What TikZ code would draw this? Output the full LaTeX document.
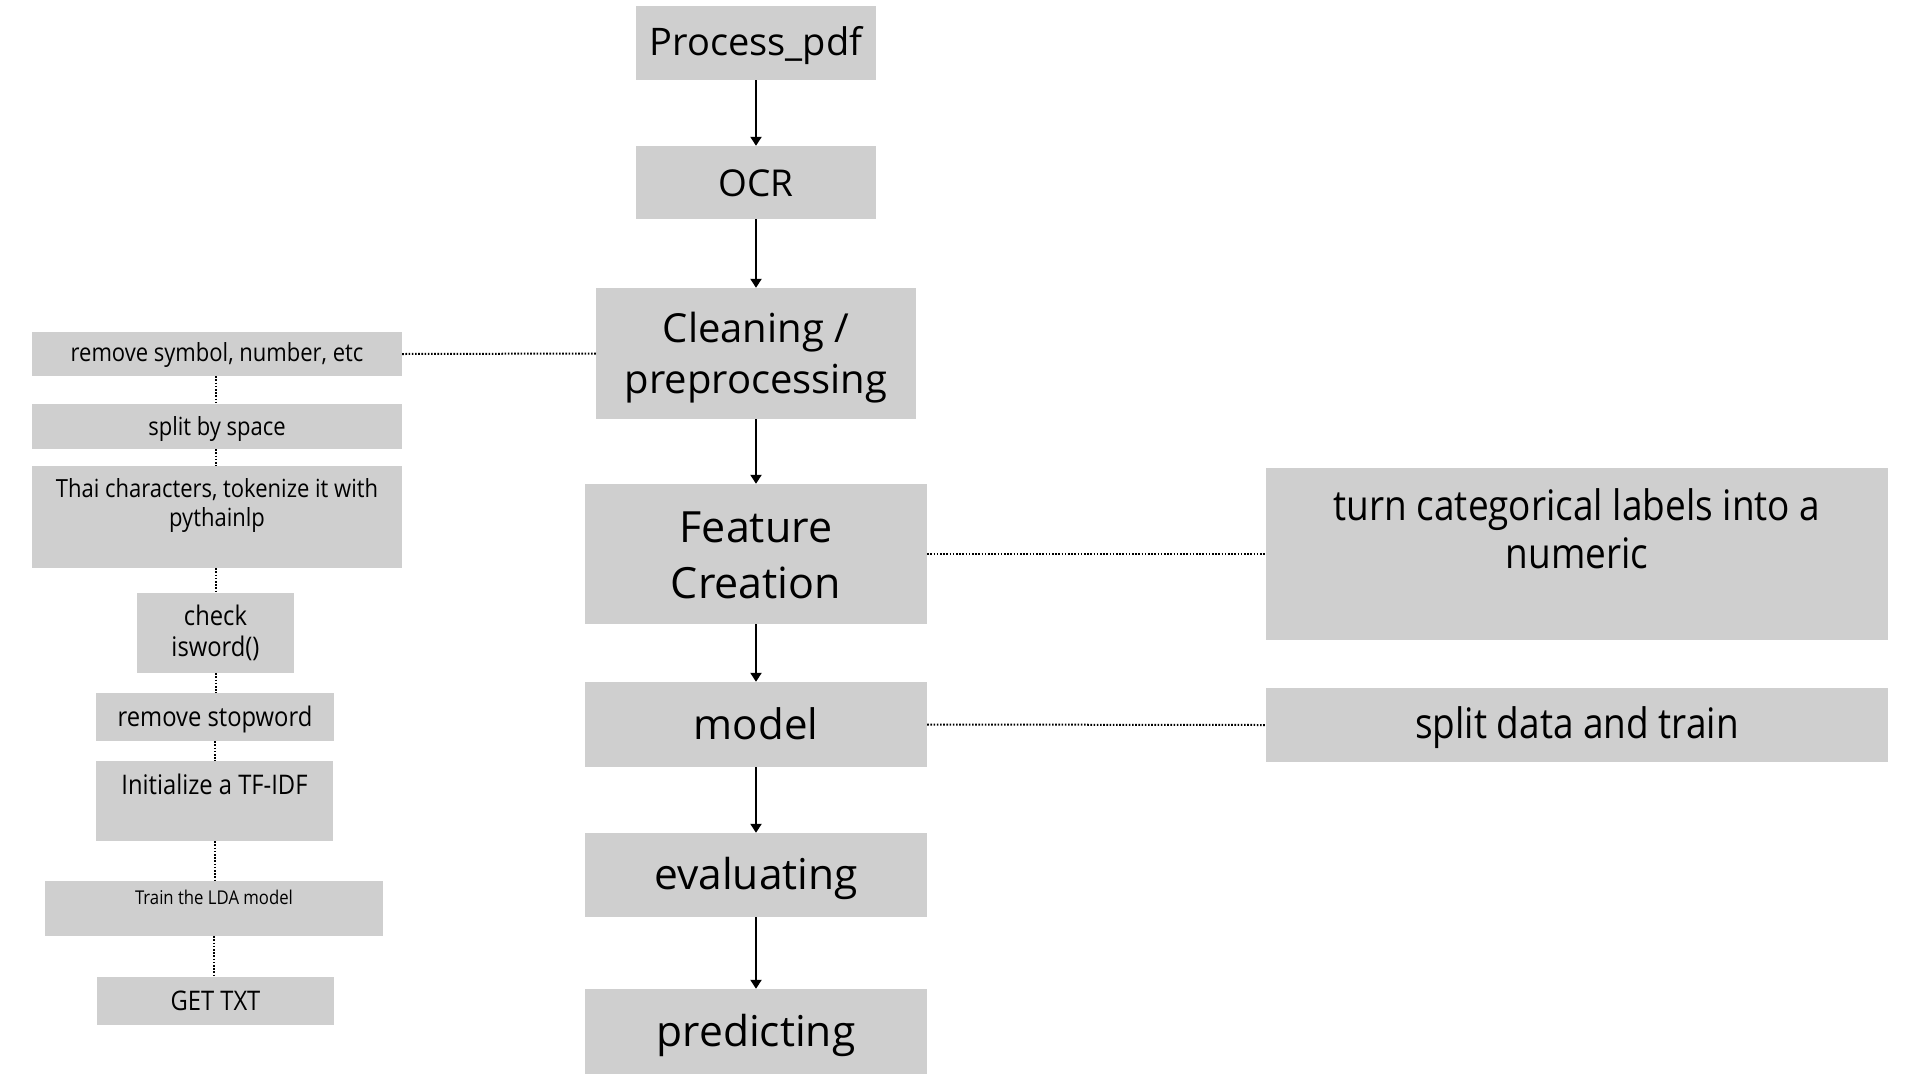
\documentclass[tikz,border=0pt]{standalone}
\usepackage{fontspec}
\setmainfont{Open Sans}
\newfontfamily\cond[FakeStretch=0.88]{Open Sans}
\usetikzlibrary{arrows.meta}
\definecolor{boxgray}{HTML}{CFCFCF}
\begin{document}
\begin{tikzpicture}[x=1pt,y=-1pt,
  box/.style={fill=boxgray,draw=none,inner sep=0pt,align=center,text=black,text depth=4pt},
  lbl/.style={inner sep=0pt,anchor=base,align=center,text=black},
  flow/.style={line width=2pt,-{Triangle[width=11pt,length=9pt]}},
  dots/.style={line width=2pt,dash pattern=on 1.6pt off 1.6pt}]
\useasboundingbox (0,0) rectangle (1920,1080);
% main column
\node[box,minimum width=240,minimum height=74,text height=29.4pt,font=\fontsize{38}{54}\selectfont] (pdf) at (756,43) {Process\_pdf};
\node[box,minimum width=240,minimum height=73,text height=32pt,font=\fontsize{37}{54}\selectfont] (ocr) at (756,182.5) {OCR};
\node[box,minimum width=320,minimum height=131] (clean) at (756,353.5) {};
\node[lbl,font=\fontsize{40}{51}\selectfont] (cleant1) at (756,342) {Cleaning /};
\node[lbl,font=\fontsize{40}{51}\selectfont] (cleant2) at (756,393) {preprocessing};
\node[box,minimum width=342,minimum height=140] (feat) at (756,554) {};
\node[lbl,font=\fontsize{43}{56}\selectfont] (featt1) at (756,542) {Feature};
\node[lbl,font=\fontsize{43}{56}\selectfont] (featt2) at (756,598) {Creation};
\node[box,minimum width=342,minimum height=85,text height=33.6pt,font=\fontsize{42}{54}\selectfont] (model) at (756,724.5) {model};
\node[box,minimum width=342,minimum height=84,text height=33.6pt,font=\fontsize{42.5}{54}\selectfont] (eval) at (756,875) {evaluating};
\node[box,minimum width=342,minimum height=85,text height=33.6pt,font=\fontsize{42.5}{54}\selectfont] (pred) at (756,1031.5) {predicting};
\draw[flow] (pdf) -- (ocr);
\draw[flow] (ocr) -- (clean);
\draw[flow] (clean) -- (feat);
\draw[flow] (feat) -- (model);
\draw[flow] (model) -- (eval);
\draw[flow] (eval) -- (pred);
% right column
\node[box,minimum width=622,minimum height=172] (cat) at (1577,554) {};
\node[lbl,font=\cond\fontsize{42}{48}\selectfont] (cattxt) at (1577,520) {turn categorical labels into a};
\node[lbl,font=\cond\fontsize{42}{48}\selectfont] (cattxt2) at (1577,568) {numeric};
\node[box,minimum width=622,minimum height=74,text height=30.6pt,font=\cond\fontsize{42}{48}\selectfont] (split) at (1577,725) {split data and train};
\draw[dots] (feat.east) -- (cat.west);
\draw[dots] (model.east) -- (split.west);
% left column
\node[box,minimum width=370,minimum height=44,text height=19.4pt,font=\cond\fontsize{25}{30}\selectfont] (rs) at (217,354) {remove symbol, number, etc};
\node[box,minimum width=370,minimum height=45,text height=21pt,font=\cond\fontsize{25}{30}\selectfont] (sbs) at (217,426.5) {split by space};
\node[box,minimum width=370,minimum height=102] (thai) at (217,517) {};
\node[lbl,font=\cond\fontsize{25}{30}\selectfont] (thait1) at (217,497) {Thai characters, tokenize it with};
\node[lbl,font=\cond\fontsize{25}{30}\selectfont] (thait2) at (217,526) {pythainlp};
\node[box,minimum width=157,minimum height=80] (check) at (215.5,633) {};
\node[lbl,font=\cond\fontsize{27}{31}\selectfont] (checkt1) at (215.5,625) {check};
\node[lbl,font=\cond\fontsize{27}{31}\selectfont] (checkt2) at (215.5,656) {isword()};
\node[box,minimum width=238,minimum height=48,text height=22pt,font=\cond\fontsize{27}{31}\selectfont] (stop) at (215,717) {remove stopword};
\node[box,minimum width=237,minimum height=80] (tfidf) at (214.5,801) {};
\node[lbl,font=\cond\fontsize{27}{31}\selectfont] (tfidft) at (214.5,794) {Initialize a TF-IDF};
\node[box,minimum width=338,minimum height=55] (lda) at (214,908.5) {};
\node[lbl,font=\cond\fontsize{19}{22}\selectfont] (ldat) at (214,904) {Train the LDA model};
\node[box,minimum width=237,minimum height=48,text height=22pt,font=\cond\fontsize{27}{30}\selectfont] (get) at (215.5,1001) {GET TXT};
\draw[dots] (clean.west) -- (rs.east);
\draw[dots] ([xshift=-1pt]rs.south) -- ([xshift=-1pt]rs.south |- sbs.north);
\draw[dots] ([xshift=-1pt]sbs.south) -- ([xshift=-1pt]sbs.south |- thai.north);
\draw[dots] ([xshift=-1pt]thai.south) -- ([xshift=-1pt]thai.south |- check.north);
\draw[dots] (check.south) -- (check.south |- stop.north);
\draw[dots] (stop.south) -- (stop.south |- tfidf.north);
\draw[dots] (tfidf.south) -- (tfidf.south |- lda.north);
\draw[dots] (lda.south) -- (lda.south |- get.north);
\end{tikzpicture}
\end{document}
